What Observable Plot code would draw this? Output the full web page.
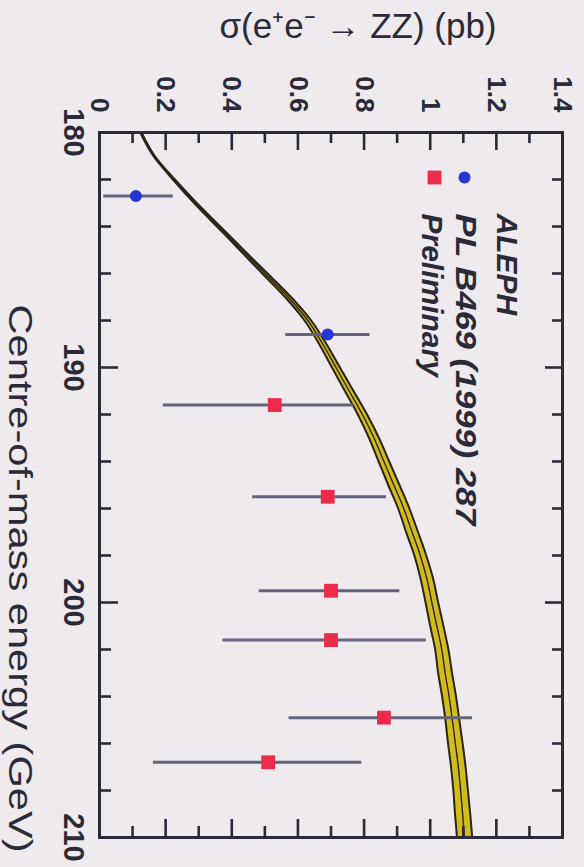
<!DOCTYPE html>
<html><head><meta charset="utf-8">
<script src="https://cdn.jsdelivr.net/npm/d3@7"></script>
<script src="https://cdn.jsdelivr.net/npm/@observablehq/plot@0.6"></script>
<style>
html,body{margin:0;padding:0;background:#eeeaee;}
#wrap{position:relative;width:584px;height:867px;overflow:hidden;background:#eeeaee;}
#chart{position:absolute;left:0;top:0;width:867px;height:584px;transform-origin:0 0;transform:translate(584px,0) rotate(90deg);}
</style></head><body>
<div id="wrap"><div id="chart"></div></div>
<script>
// ---- data ----
const xTitle = "Centre-of-mass energy (GeV)";
const yTitle = "σ(e⁺e⁻ → ZZ) (pb)";
const energyTicks = [180, 190, 200, 210];
const energyMinor = [182, 184, 186, 188, 192, 194, 196, 198, 202, 204, 206, 208];
const sigmaTicks = [0, 0.2, 0.4, 0.6, 0.8, 1.0, 1.2, 1.4];
const sigmaTickLabels = ["0", "0.2", "0.4", "0.6", "0.8", "1", "1.2", "1.4"];
const sigmaMinor = [0.1, 0.3, 0.5, 0.7, 0.9, 1.1, 1.3];

const curveEnergy = [180,181,182,183,184,185,186,187,188,189,190,191,192,193,194,195,196,197,198,199,200,201,202,203,204,205,206,207,208,209,210];
const curveSigma  = [0.125,0.165,0.225,0.29,0.36,0.43,0.50,0.57,0.63,0.675,0.715,0.755,0.795,0.83,0.86,0.89,0.92,0.945,0.97,0.99,1.005,1.02,1.035,1.045,1.057,1.067,1.076,1.085,1.092,1.098,1.104];
const curveHalfWidth = [0.002,0.002,0.003,0.004,0.005,0.006,0.008,0.009,0.010,0.011,0.012,0.013,0.014,0.015,0.016,0.017,0.017,0.018,0.018,0.019,0.019,0.020,0.020,0.021,0.021,0.021,0.022,0.022,0.022,0.023,0.023];

const pointEnergy = [182.7, 188.6, 191.6, 195.5, 199.5, 201.6, 204.9, 206.8];
const pointSigma  = [0.11, 0.69, 0.53, 0.69, 0.70, 0.70, 0.86, 0.51];
const pointLow    = [0.01, 0.56, 0.19, 0.46, 0.48, 0.37, 0.57, 0.16];
const pointHigh   = [0.22, 0.815, 0.765, 0.865, 0.905, 0.985, 1.125, 0.79];
const pointSet    = ["PL B469 (1999) 287","PL B469 (1999) 287","Preliminary","Preliminary","Preliminary","Preliminary","Preliminary","Preliminary"];
const legendTitle = "ALEPH";
const legendLabels = ["PL B469 (1999) 287", "Preliminary"];

// ---- build ----
const curve = curveEnergy.map((e, i) => ({e, s: curveSigma[i], lo: curveSigma[i] - curveHalfWidth[i], hi: curveSigma[i] + curveHalfWidth[i]}));
const pts = pointEnergy.map((e, i) => ({e, s: pointSigma[i], lo: pointLow[i], hi: pointHigh[i], set: pointSet[i]}));
const blue = "#2336d4", red = "#ec2a4a", ink = "#2a2a38", bar = "#63637c";
const W = 867, H = 584, mL = 132, mR = 30, mT = 21, mB = 100;
const iw = W - mL - mR, ih = H - mT - mB;
const bandLine = "#2b2418";

const chart = Plot.plot({
  width: W, height: H,
  marginLeft: mL, marginRight: mR, marginTop: mT, marginBottom: mB,
  style: {background: "#eeeaee", fontFamily: "'Liberation Sans', Arial, sans-serif", overflow: "visible"},
  x: {domain: [180, 210]},
  y: {domain: [0, 1.4]},
  marks: [
    Plot.areaY(curve, {x: "e", y1: "lo", y2: "hi", fill: "#d2bc1c", curve: "monotone-x"}),
    Plot.lineY(curve, {x: "e", y: "lo", stroke: bandLine, strokeWidth: 2, curve: "monotone-x"}),
    Plot.lineY(curve, {x: "e", y: "hi", stroke: bandLine, strokeWidth: 2, curve: "monotone-x"}),
    Plot.lineY(curve, {x: "e", y: "s", stroke: bandLine, strokeWidth: 1.4, curve: "monotone-x"}),
    Plot.ruleX(pts, {x: "e", y1: "lo", y2: "hi", stroke: bar, strokeWidth: 3}),
    Plot.dot(pts.filter(d => d.set === legendLabels[0]), {x: "e", y: "s", r: 6, fill: blue, symbol: "circle"}),
    Plot.dot(pts.filter(d => d.set === legendLabels[1]), {x: "e", y: "s", r: 7.8, fill: red, symbol: "square"}),
    // inward ticks, all four sides
    Plot.tickX(energyTicks, {x: d => d, insetTop: ih - 18, stroke: ink, strokeWidth: 2.6}),
    Plot.tickX(energyTicks, {x: d => d, insetBottom: ih - 18, stroke: ink, strokeWidth: 2.6}),
    Plot.tickX(energyMinor, {x: d => d, insetTop: ih - 11, stroke: ink, strokeWidth: 2.6}),
    Plot.tickX(energyMinor, {x: d => d, insetBottom: ih - 11, stroke: ink, strokeWidth: 2.6}),
    Plot.tickY(sigmaTicks, {y: d => d, insetRight: iw - 18, stroke: ink, strokeWidth: 2.6}),
    Plot.tickY(sigmaTicks, {y: d => d, insetLeft: iw - 18, stroke: ink, strokeWidth: 2.6}),
    Plot.tickY(sigmaMinor, {y: d => d, insetRight: iw - 11, stroke: ink, strokeWidth: 2.6}),
    Plot.tickY(sigmaMinor, {y: d => d, insetLeft: iw - 11, stroke: ink, strokeWidth: 2.6}),
    Plot.frame({stroke: ink, strokeWidth: 3}),
    Plot.axisX(energyTicks, {tickSize: 0, tickPadding: 15, fontSize: 29, fontWeight: "bold", color: ink, label: null}),
    Plot.axisY(sigmaTicks, {tickSize: 0, tickPadding: 20, fontSize: 26, fontWeight: "bold", color: ink, label: null,
      tickFormat: (d) => sigmaTickLabels[sigmaTicks.indexOf(d)]}),
    // axis titles
    Plot.text([xTitle], {frameAnchor: "bottom-right", dx: 15, dy: 91, textAnchor: "end", lineAnchor: "bottom", fontSize: 33, fill: ink}),
    Plot.text([yTitle], {frameAnchor: "left", rotate: -90, dx: -106, dy: -27, textAnchor: "middle", lineAnchor: "middle", fontSize: 35, fill: ink}),
    // legend
    Plot.text([legendTitle], {frameAnchor: "top-left", dx: 81, dy: 56, textAnchor: "start", lineAnchor: "middle", fontSize: 30, fontWeight: "bold", fontStyle: "italic", fill: ink}),
    Plot.dot([legendLabels[0]], {frameAnchor: "top-left", dx: 45, dy: 98, r: 6, fill: blue}),
    Plot.text([legendLabels[0]], {frameAnchor: "top-left", dx: 81, dy: 97, textAnchor: "start", lineAnchor: "middle", fontSize: 30, fontWeight: "bold", fontStyle: "italic", fill: ink}),
    Plot.dot([legendLabels[1]], {frameAnchor: "top-left", dx: 45, dy: 128, r: 7.8, symbol: "square", fill: red}),
    Plot.text([legendLabels[1]], {frameAnchor: "top-left", dx: 81, dy: 131, textAnchor: "start", lineAnchor: "middle", fontSize: 30, fontWeight: "bold", fontStyle: "italic", fill: ink})
  ]
});
// the photographed original is slightly stretched along the energy direction
const stretch = {[xTitle]: 548, [legendLabels[0]]: 312};
chart.querySelectorAll("text").forEach(t => {
  const L = stretch[t.textContent];
  if (L) { t.setAttribute("textLength", L); t.setAttribute("lengthAdjust", "spacingAndGlyphs"); }
});
document.getElementById("chart").appendChild(chart);
</script>
</body></html>
